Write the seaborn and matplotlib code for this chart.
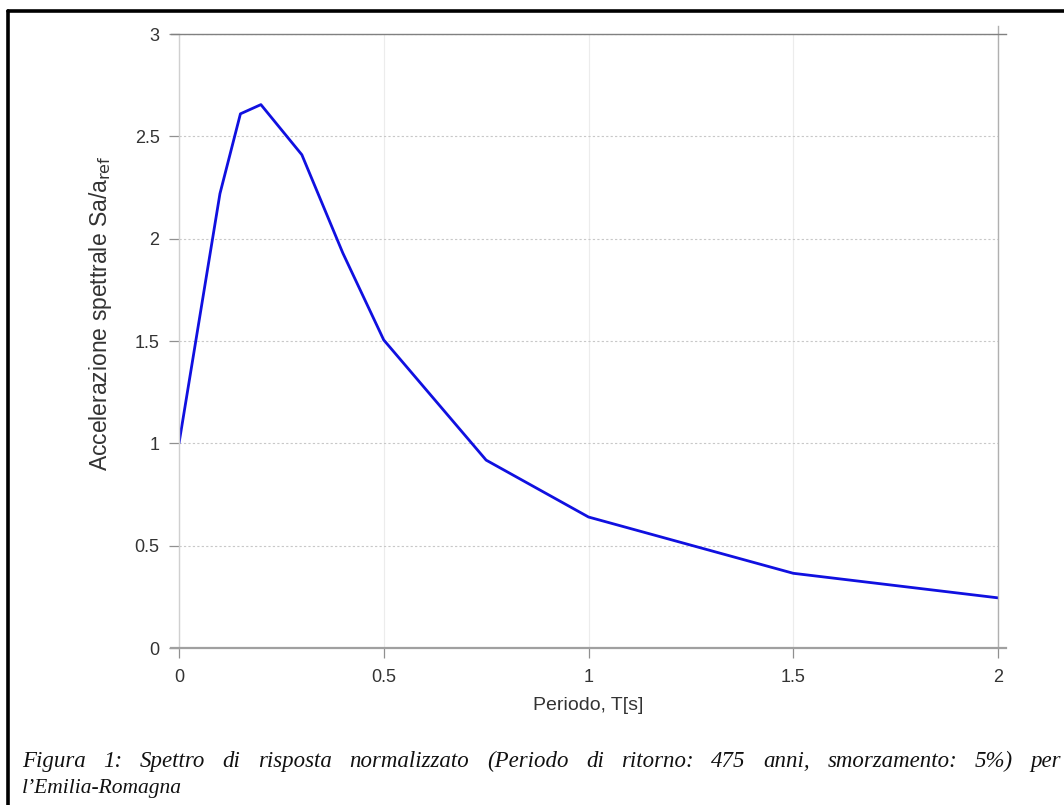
import numpy as np
import pandas as pd
import matplotlib
matplotlib.use("Agg")
import matplotlib.pyplot as plt
from matplotlib.lines import Line2D
import seaborn as sns

# ===========================
# DATA
# ===========================
periodo = [0.0, 0.1, 0.15, 0.2, 0.3, 0.4, 0.5, 0.75, 1.0, 1.5, 2.0]
sa_norm = [1.0, 2.22, 2.61, 2.655, 2.41, 1.93, 1.505, 0.918, 0.64, 0.365, 0.245]
x_ticks = [0, 0.5, 1, 1.5, 2]
y_ticks = [0, 0.5, 1, 1.5, 2, 2.5, 3]
x_ticklabels = ["0", "0.5", "1", "1.5", "2"]
y_ticklabels = ["0", "0.5", "1", "1.5", "2", "2.5", "3"]
caption_1 = "Figura 1: Spettro di risposta normalizzato (Periodo di ritorno: 475 anni, smorzamento: 5%) per"
caption_2 = "l\u2019Emilia-Romagna"

df = pd.DataFrame({"T": periodo, "Sa": sa_norm})

# ===========================
# FIGURE
# ===========================
sns.set_style("white")
plt.rcParams["font.family"] = ["Liberation Sans", "DejaVu Sans"]

W, H = 1064, 805
fig = plt.figure(figsize=(W / 100, H / 100), dpi=100)
ax = fig.add_axes([179 / W, 1 - 648 / H, (998 - 179) / W, (648 - 34) / H])

sns.lineplot(data=df, x="T", y="Sa", ax=ax, color="#1010e0", linewidth=2.0)

ax.set_xlim(0, 2)
ax.set_ylim(0, 3)
ax.set_xticks(x_ticks)
ax.set_xticklabels(x_ticklabels)
ax.set_yticks(y_ticks)
ax.set_yticklabels(y_ticklabels)

# grids: dotted horizontal, faint solid vertical
ax.yaxis.grid(True, linestyle=(0, (2, 2)), color="#c8c8c8", linewidth=0.8)
ax.xaxis.grid(True, linestyle="-", color="#ececec", linewidth=0.8)

for side in ["left", "right", "top", "bottom"]:
    ax.spines[side].set_visible(True)
ax.spines["left"].set_color("#d0d0d0")
ax.spines["left"].set_linewidth(1.0)
ax.spines["right"].set_color("#b0b0b0")
ax.spines["right"].set_linewidth(1.0)
ax.spines["right"].set_bounds(0, 3.04)
ax.spines["top"].set_color("#808080")
ax.spines["top"].set_linewidth(1.0)
ax.spines["top"].set_bounds(-0.02, 2.02)
ax.spines["bottom"].set_color("#a0a0a0")
ax.spines["bottom"].set_linewidth(1.6)
ax.spines["bottom"].set_bounds(-0.02, 2.02)

ax.tick_params(axis="both", which="both", direction="out", length=7,
               width=0.9, color="#909090", labelsize=13, labelcolor="#333333")
ax.tick_params(axis="x", pad=8)
ax.tick_params(axis="y", pad=7)
ax.tick_params(bottom=True, left=True)

ax.set_xlabel("Periodo, T[s]", fontsize=14, color="#333333", labelpad=8)
ax.set_ylabel(r"Accelerazione spettrale Sa/a$_{\mathrm{ref}}$", fontsize=16.5,
              color="#333333")
ax.yaxis.set_label_coords(-0.079, 0.546)

# black frame lines (top and left only visible in reference)
fig.add_artist(Line2D([8 / W, 8 / W], [0, 1 - 11 / H], color="black",
                      linewidth=2.6, transform=fig.transFigure))
fig.add_artist(Line2D([8 / W, 1], [1 - 11 / H, 1 - 11 / H], color="black",
                      linewidth=2.6, transform=fig.transFigure))

# caption, first line justified across the page
cap_kw = dict(style="italic", color="#111111",
              family=["Liberation Serif", "DejaVu Serif"], va="baseline", ha="left")
renderer = fig.canvas.get_renderer()
words = caption_1.split(" ")
left_px, right_px = 22, 1061
texts = [fig.text(0, 1 - 767 / H, w, fontsize=16.5, **cap_kw) for w in words]
widths = [t.get_window_extent(renderer).width for t in texts]
gap = (right_px - left_px - sum(widths)) / (len(words) - 1)
x = left_px
for t, w in zip(texts, widths):
    t.set_x(x / W)
    x += w + gap
fig.text(22 / W, 1 - 793 / H, caption_2, fontsize=15.5, **cap_kw)

fig.savefig("out.png", dpi=100)
